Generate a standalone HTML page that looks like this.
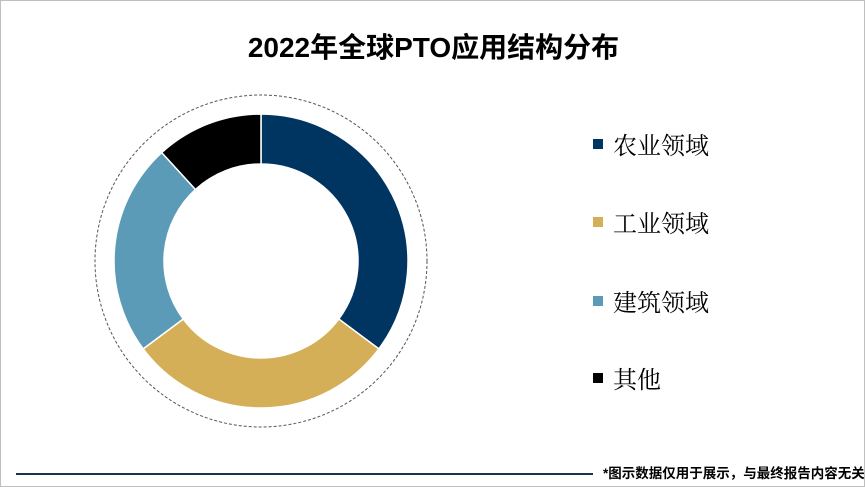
<!DOCTYPE html>
<html><head><meta charset="utf-8"><style>
body{margin:0;width:865px;height:487px;overflow:hidden;background:#fff;font-family:"Liberation Sans","Noto Sans CJK SC",sans-serif}
#wrap{position:relative;width:863px;height:485px;border:1px solid #bfbfbf;overflow:hidden}
.title{position:absolute;left:0;width:865px;top:25px;text-align:center;font-size:28px;font-weight:bold;color:#000}
.leg{position:absolute;left:592px;font-size:24px;font-family:"Liberation Serif","Noto Serif CJK SC",serif;color:#000;display:flex;align-items:center}
.sq{width:10px;height:10px;margin-right:10px}
.foot{position:absolute;left:602px;top:461px;font-size:13.5px;font-weight:bold;white-space:nowrap}
.line{position:absolute;left:15px;top:472px;width:577px;height:2px;background:#1f2f4f}
</style></head><body>
<div id="wrap">
<div class="title">2022年全球PTO应用结构分布</div>
<svg id="svg" width="865" height="487" style="position:absolute;left:0;top:0">
<circle cx="260" cy="260" r="166" fill="none" stroke="#555" stroke-dasharray="3,2" stroke-width="1"/>
</svg>
<div class="leg" style="top:125px"><div class="sq" style="background:#003461"></div>农业领域</div>
<div class="leg" style="top:203px"><div class="sq" style="background:#d4af57"></div>工业领域</div>
<div class="leg" style="top:282px"><div class="sq" style="background:#5b9bb8"></div>建筑领域</div>
<div class="leg" style="top:359px"><div class="sq" style="background:#000"></div>其他</div>
<div class="line"></div>
<div class="foot">*图示数据仅用于展示，与最终报告内容无关</div>
</div>
<script>
const categories=["农业领域","工业领域","建筑领域","其他"];
const values=[35.2,29.6,23.4,11.8];
const colors=["#003461","#d4af57","#5b9bb8","#000000"];
const svg=document.getElementById('svg');
const cx=260,cy=260,R=147,r=97;
const total=values.reduce((a,b)=>a+b,0);
function pt(a,rad){return [cx+rad*Math.sin(a),cy-rad*Math.cos(a)];}
let a0=0;
values.forEach((v,i)=>{
  const a1=a0+v/total*2*Math.PI;
  const L=(a1-a0)>Math.PI?1:0;
  const [x0,y0]=pt(a0,R),[x1,y1]=pt(a1,R),[x2,y2]=pt(a1,r),[x3,y3]=pt(a0,r);
  const p=document.createElementNS('http://www.w3.org/2000/svg','path');
  p.setAttribute('d',`M${x0},${y0}A${R},${R} 0 ${L} 1 ${x1},${y1}L${x2},${y2}A${r},${r} 0 ${L} 0 ${x3},${y3}Z`);
  p.setAttribute('fill',colors[i]);
  p.setAttribute('stroke','#fff');
  p.setAttribute('stroke-width','1.5');
  
  
  svg.appendChild(p);
  a0=a1;
});
</script>
</body></html>
